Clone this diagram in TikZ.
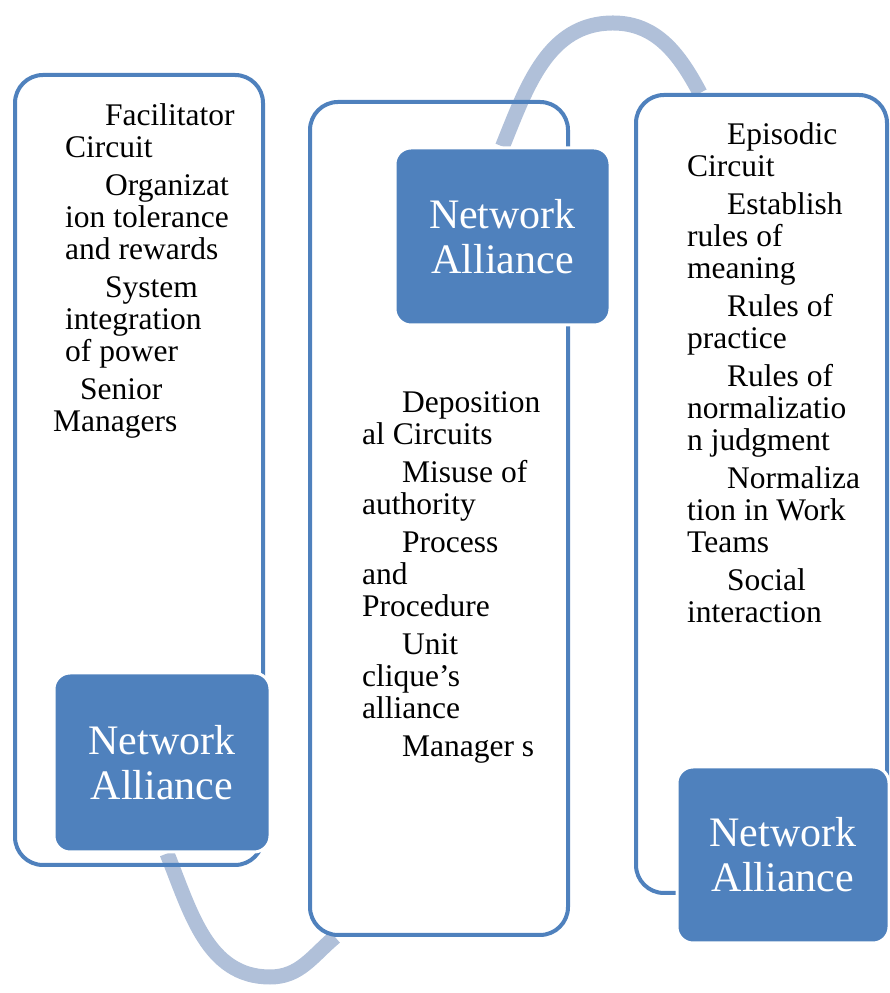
\documentclass[tikz,border=0pt]{standalone}
\usepackage{fontspec}
\setmainfont{Liberation Serif}
\usetikzlibrary{positioning,backgrounds}
\definecolor{allyblue}{RGB}{79,129,189}
\definecolor{linkblue}{RGB}{176,192,217}
\newcommand\ind{\hspace*{40pt}}
\tikzset{
	circuitframe/.style = {draw = allyblue, line width = 4pt, rounded corners = 28pt, inner sep = 0pt},
	alliance/.style = {fill = allyblue, draw = white, line width = 3pt, rounded corners = 16pt, text = white, align = center, inner sep = 0pt, font = \fontsize{42}{45}\selectfont},
	circuittext/.style = {align = left, inner sep = 0pt, anchor = base west, font = \fontsize{31.5}{32}\selectfont},
	linkarc/.style = {draw = linkblue, line width = 15pt}
}
\begin{document}
\begin{tikzpicture}[x = 1pt, y = 1pt]
	\useasboundingbox (0,0) rectangle (890,993);
	% outer frames
	\node[circuitframe, minimum width = 248pt, minimum height = 790pt] (frame1) at (139,523) {};
	\node[circuitframe, minimum width = 258pt, minimum height = 833pt] (frame2) at (439,474.5) {};
	\node[circuitframe, minimum width = 251pt, minimum height = 798pt] (frame3) at (761.5,499) {};
	% lists (anchored on the last line)
	\node[circuittext] (list1) at (65,561) {\ind Facilitator\\ Circuit\\[6pt]
		\ind Organizat\\ ion tolerance\\ and rewards\\[6pt]
		\ind System\\ integration\\ of power\\[6pt]
		\hspace*{15pt}Senior\\ \hspace*{-12pt}Managers};
	\node[circuittext] (list2) at (362,236) {\ind Deposition\\ al Circuits\\[6pt]
		\ind Misuse of\\ authority\\[6pt]
		\ind Process\\ and\\ Procedure\\[6pt]
		\ind Unit\\ clique's\\ alliance\\[6pt]
		\ind Manager s};
	\node[circuittext] (list3) at (687,370) {\ind Episodic\\ Circuit\\[6pt]
		\ind Establish\\ rules of\\ meaning\\[6pt]
		\ind Rules of\\ practice\\[6pt]
		\ind Rules of\\ normalizatio\\ n judgment\\[6pt]
		\ind Normaliza\\ tion in Work\\ Teams\\[6pt]
		\ind Social\\ interaction};
	% filled boxes
	\node[alliance, minimum width = 216pt, minimum height = 179pt] (ally1) at (162,230.5) {Network\\Alliance};
	\node[alliance, minimum width = 215pt, minimum height = 177pt] (ally2) at (502.5,756.5) {Network\\Alliance};
	\node[alliance, minimum width = 212pt, minimum height = 176pt] (ally3) at (783,138) {Network\\Alliance};
	% links behind everything
	\begin{scope}[on background layer]
		\draw[linkarc] ([xshift = 5pt]ally1.south) to[out = -68, in = 180] (270,16) to[out = 0, in = -140] ([xshift = 27pt]frame2.south west);
		\draw[linkarc] (ally2.north) to[out = 68, in = 180] (613,970) to[out = 0, in = 118] ([xshift = 66pt]frame3.north west);
	\end{scope}
\end{tikzpicture}
\end{document}
